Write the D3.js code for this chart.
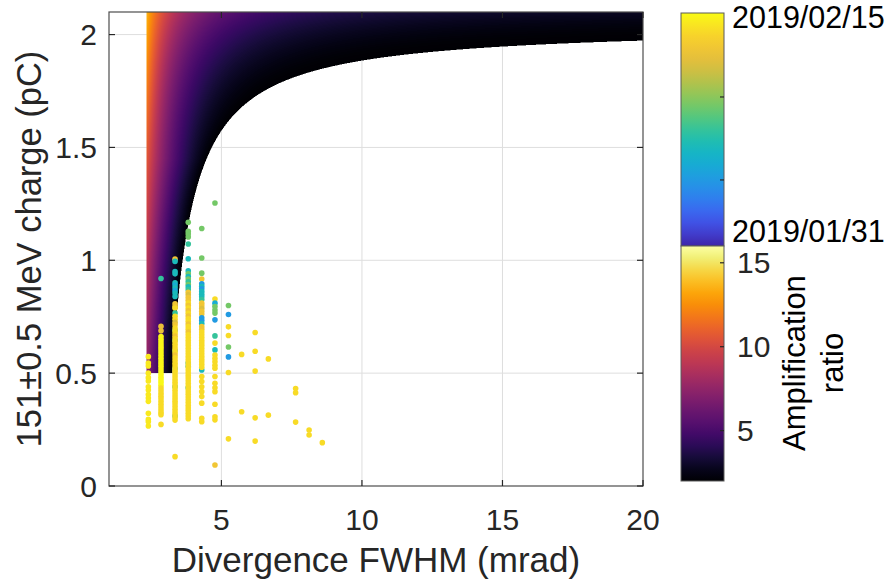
<!DOCTYPE html>
<html>
<head>
<meta charset="utf-8">
<script src="https://cdn.jsdelivr.net/npm/d3@7"></script>
<style>
  body { margin: 0; background: #fff; }
  text { font-family: "Liberation Sans", Arial, sans-serif; }
</style>
</head>
<body>
<div id="vizcontainer"></div>
<script>
const xTicks = [5, 10, 15, 20],
  yTicks = [0, 0.5, 1, 1.5, 2],
  ampTicks = [5, 10, 15],
  dayTicks = [4, 9],                      // 2019/02/04 and 2019/02/09, days after 2019/01/31
  dateLabels = ['2019/02/15', '2019/01/31'];

// shots, one column per divergence step (mrad); charge in pC; shotDay = days after 2019/01/31
const divergence = [2.40, 2.85, 3.35, 3.82, 4.30, 4.77, 5.25, 5.72, 6.20, 6.67, 7.64, 8.12, 8.59];
const charge = [
  [0.573, 0.545, 0.532, 0.500, 0.480, 0.465, 0.440, 0.425, 0.405, 0.390, 0.375, 0.322, 0.295, 0.285, 0.266],
  [0.919, 0.707, 0.688, 0.662, 0.650, 0.638, 0.626, 0.614, 0.602, 0.590, 0.578, 0.566, 0.554, 0.542, 0.530, 0.518, 0.506,
   0.494, 0.482, 0.470, 0.458, 0.446, 0.434, 0.422, 0.410, 0.398, 0.386, 0.374, 0.362, 0.350, 0.338, 0.326, 0.316, 0.273],
  [0.690, 0.645, 0.600, 0.520, 0.440, 0.310,
   1.005, 0.995, 0.950, 0.940, 0.900, 0.890, 0.878, 0.866, 0.855, 0.840, 0.807, 0.795, 0.788, 0.766, 0.752, 0.739, 0.725, 0.714,
   0.700, 0.688, 0.676, 0.664, 0.652, 0.640, 0.628, 0.616, 0.604, 0.592, 0.580, 0.568, 0.556, 0.544, 0.532, 0.520, 0.508,
   0.496, 0.484, 0.472, 0.460, 0.448, 0.436, 0.424, 0.412, 0.400, 0.388, 0.376, 0.364, 0.352, 0.340, 0.328, 0.316, 0.304,
   0.292, 0.130],
  [0.545, 0.530, 0.435,
   1.168, 1.128, 1.116, 1.103, 1.072, 1.007, 0.953, 0.940, 0.928, 0.917, 0.905, 0.893, 0.882, 0.870, 0.858, 0.847, 0.835,
   0.823, 0.810, 0.800, 0.788, 0.776, 0.765, 0.753, 0.741, 0.730, 0.718, 0.706, 0.694, 0.682, 0.670, 0.658,
   0.646, 0.634, 0.622, 0.610, 0.598, 0.586, 0.574, 0.562, 0.550, 0.538, 0.526, 0.514, 0.502, 0.490, 0.478, 0.466, 0.454,
   0.442, 0.430, 0.418, 0.406, 0.394, 0.382, 0.370, 0.358, 0.346, 0.334, 0.322, 0.310, 0.298],
  [0.514,
   1.141, 1.010, 0.943, 0.917, 0.896, 0.885, 0.874, 0.862, 0.850, 0.838, 0.826, 0.810, 0.798, 0.786, 0.774, 0.762, 0.745,
   0.733, 0.720, 0.706, 0.694, 0.682,
   0.670, 0.658, 0.646, 0.634, 0.622, 0.610, 0.598, 0.586, 0.574, 0.562, 0.550, 0.538, 0.526,
   0.485, 0.463, 0.440, 0.418, 0.396, 0.367, 0.300, 0.285],
  [1.254, 0.828, 0.810, 0.795, 0.780, 0.766, 0.736, 0.665, 0.633, 0.603, 0.580, 0.565, 0.550, 0.535, 0.522, 0.485, 0.455,
   0.435, 0.418, 0.362, 0.307, 0.293, 0.093],
  [0.800, 0.760, 0.705, 0.667, 0.616, 0.572, 0.503, 0.209],
  [0.583, 0.329],
  [0.680, 0.597, 0.509, 0.302, 0.199],
  [0.563, 0.314],
  [0.432, 0.413, 0.283],
  [0.248, 0.226],
  [0.192]
];
const shotDay = [
  [13.5, 13.5, 13.5, 13.5, 13.5, 13.5, 13.5, 13.5, 13.5, 13.5, 13.5, 13.5, 13.5, 13.5, 13.5],
  [7, 11.5, 11.5, 14, 14, 14, 14, 14, 14, 14, 14, 14, 14, 14, 14, 14, 14,
   14, 14, 14, 14, 14, 13, 13, 13, 13, 13, 13, 13, 13, 13, 13, 13, 13],
  [6, 7, 6, 6, 6, 6,
   12, 6, 6, 6, 6, 5, 6, 4.5, 6, 6, 12, 12, 13, 7, 13, 13, 11, 12,
   13, 13, 13, 12, 13, 13, 13, 13, 13, 13, 12, 13, 13, 13, 13, 13, 13,
   13, 13, 13, 13, 13, 13, 13, 13, 13, 13, 13, 13, 13, 13, 13, 13, 13,
   13, 13],
  [6, 6, 6,
   8.5, 8.5, 8.5, 8.5, 7, 6, 6, 8.5, 6, 8.5, 7, 8.5, 6, 7, 12, 11, 12,
   12, 13, 12, 13, 12, 13, 12, 13, 13, 12, 13, 13, 12, 13, 13,
   13, 13, 13, 13, 13, 13, 13, 13, 13, 13, 13, 13, 13, 13, 13, 13, 13,
   13, 13, 13, 13, 13, 13, 13, 13, 13, 13, 13, 13, 13],
  [6,
   8.5, 8.5, 8.5, 12, 4, 6, 4, 6, 6, 6, 7, 12, 12, 11, 12, 12, 4,
   4, 6, 12, 12, 13,
   13, 13, 13, 13, 13, 13, 13, 13, 13, 13, 13, 13, 13,
   13, 13, 13, 13, 13, 13, 13, 13],
  [8.5, 13, 5, 8.5, 8.5, 8.5, 4, 7, 13, 6, 13, 13, 13, 13, 13, 13, 13,
   13, 13, 13, 13, 13, 12],
  [8.5, 4, 13, 13, 8.5, 4, 13, 13],
  [13, 13],
  [13, 13, 13, 13, 13],
  [13, 13],
  [13, 13, 13],
  [13, 13],
  [13]
];

// amplification-ratio surface, shape
const ampRange = [2, 16],
  surfaceDivMin = 2.34, surfaceChargeMin = 0.5,
  edgeX0 = 2.5, edgeK = 1.165, edgeQs = 2.04,          // edge where the ratio falls to 2
  leftCharge = [0.5, 1.0, 1.45, 1.89, 2.1],            // ratio read along the left edge
  leftAmp = [7.4, 9.0, 10.7, 12.7, 13.7];

const parulaStops = ['#3e26a8', '#4552f2', '#2f7ff0', '#1fa0e0', '#0db7c8', '#30c49c',
  '#72ca64', '#b3c24a', '#e9bb3c', '#face2d', '#f9fb15'];

const width = 888, height = 587;

const x = d3.scaleLinear().domain([1, 20]).range([109, 643]);
const y = d3.scaleLinear().domain([0, 2.1]).range([486, 12]);
const ampY = d3.scaleLinear().domain(ampRange).range([481, 246]);
const dayY = d3.scaleLinear().domain([0.02, 14.06]).range([246, 13]);
const ampColor = d3.scaleSequential(d3.interpolateInferno).domain(ampRange);
const dayColor = d3.scaleSequential(d3.interpolateRgbBasis(parulaStops)).domain(dayY.domain());
const leftEdge = d3.scaleLinear().domain(leftCharge).range(leftAmp).clamp(true);

function amplification(d, q) {
  if (d < surfaceDivMin || q < surfaceChargeMin) return null;
  const invEdge = (edgeQs - q) / (edgeX0 * (edgeQs - q) + edgeK);
  const u = 1 / d - invEdge;
  if (u <= 0) return null;
  const s = u / (1 / surfaceDivMin - invEdge);
  const p = 1 + 1.2 * Math.max(0, q - 1.45);
  return ampRange[0] + (leftEdge(q) - ampRange[0]) * Math.pow(s, p);
}

const svg = d3.select('#vizcontainer')
  .append('svg')
  .attr('width', width)
  .attr('height', height);

svg.append('defs').append('clipPath').attr('id', 'plotclip')
  .append('rect')
  .attr('x', x(1)).attr('y', y(2.1))
  .attr('width', x(20) - x(1)).attr('height', y(0) - y(2.1));

// grid
const grid = svg.append('g').attr('stroke', '#dedede').attr('stroke-width', 1);
grid.selectAll('.gx').data(xTicks.slice(0, -1)).join('line')
  .attr('x1', d => x(d)).attr('x2', d => x(d)).attr('y1', y(0)).attr('y2', y(2.1));
grid.selectAll('.gy').data(yTicks.slice(1)).join('line')
  .attr('y1', d => y(d)).attr('y2', d => y(d)).attr('x1', x(1)).attr('x2', x(20));

// surface raster
const hw = Math.round(x(20) - x(1)), hh = Math.round(y(0) - y(2.1));
const canvas = document.createElement('canvas');
canvas.width = hw; canvas.height = hh;
const ctx = canvas.getContext('2d');
const img = ctx.createImageData(hw, hh);
const lut = d3.range(256).map(i => d3.rgb(ampColor(ampRange[0] + (ampRange[1] - ampRange[0]) * i / 255)));
const sub = [0.25, 0.75];
for (let py = 0; py < hh; py++) {
  for (let px = 0; px < hw; px++) {
    let cover = 0, rSum = 0;
    for (const sy of sub) for (const sx of sub) {
      const r = amplification(x.invert(x(1) + px + sx), y.invert(y(2.1) + py + sy));
      if (r !== null) { cover++; rSum += r; }
    }
    if (!cover) continue;
    const t = Math.max(0, Math.min(1, (rSum / cover - ampRange[0]) / (ampRange[1] - ampRange[0])));
    const c = lut[Math.round(t * 255)];
    const k = (py * hw + px) * 4;
    img.data[k] = c.r; img.data[k + 1] = c.g; img.data[k + 2] = c.b;
    img.data[k + 3] = Math.round(255 * cover / 4);
  }
}
ctx.putImageData(img, 0, 0);
svg.append('image')
  .attr('x', x(1)).attr('y', y(2.1))
  .attr('width', hw).attr('height', hh)
  .attr('href', canvas.toDataURL());

// shots
const shots = divergence.flatMap((d, i) => charge[i].map((q, j) => ({ d, q, day: shotDay[i][j] })));
svg.append('g').attr('clip-path', 'url(#plotclip)')
  .selectAll('circle')
  .data(shots)
  .join('circle')
  .attr('cx', s => x(s.d))
  .attr('cy', s => y(s.q))
  .attr('r', 2.8)
  .attr('fill', s => dayColor(s.day));

// axes box and ticks
const axisColor = '#262626';
svg.append('rect')
  .attr('x', x(1)).attr('y', y(2.1))
  .attr('width', x(20) - x(1)).attr('height', y(0) - y(2.1))
  .attr('fill', 'none').attr('stroke', '#4d4d4d').attr('stroke-width', 1.2);
const ticks = svg.append('g').attr('stroke', axisColor).attr('stroke-width', 1.2);
const tl = 6;
xTicks.forEach(t => {
  ticks.append('line').attr('x1', x(t)).attr('x2', x(t)).attr('y1', y(0)).attr('y2', y(0) - tl);
  ticks.append('line').attr('x1', x(t)).attr('x2', x(t)).attr('y1', y(2.1)).attr('y2', y(2.1) + tl);
});
yTicks.forEach(t => {
  ticks.append('line').attr('y1', y(t)).attr('y2', y(t)).attr('x1', x(1)).attr('x2', x(1) + tl);
  ticks.append('line').attr('y1', y(t)).attr('y2', y(t)).attr('x1', x(20)).attr('x2', x(20) - tl);
});

svg.append('g').selectAll('text').data(xTicks).join('text')
  .attr('x', d => x(d)).attr('y', y(0) + 44)
  .attr('text-anchor', 'middle').attr('font-size', 30).attr('fill', axisColor)
  .text(d => d);
svg.append('g').selectAll('text').data(yTicks).join('text')
  .attr('x', x(1) - 12).attr('y', d => y(d)).attr('dy', '0.35em')
  .attr('text-anchor', 'end').attr('font-size', 30).attr('fill', axisColor)
  .text(d => d);

svg.append('text')
  .attr('x', (x(1) + x(20)) / 2).attr('y', 572)
  .attr('text-anchor', 'middle').attr('font-size', 35).attr('fill', axisColor)
  .text('Divergence FWHM (mrad)');
svg.append('text')
  .attr('transform', `translate(41,${(y(0) + y(2.1)) / 2}) rotate(-90)`)
  .attr('text-anchor', 'middle').attr('font-size', 34.5).attr('fill', axisColor)
  .text('151±0.5 MeV charge (pC)');

// colour bars
const cbX = 681, cbW = 43;
const defs = svg.select('defs');
const gDay = defs.append('linearGradient').attr('id', 'gday')
  .attr('x1', 0).attr('x2', 0).attr('y1', 1).attr('y2', 0);
gDay.selectAll('stop').data(d3.range(0, 1.0001, 0.05)).join('stop')
  .attr('offset', t => t)
  .attr('stop-color', t => dayColor(dayY.domain()[0] + t * (dayY.domain()[1] - dayY.domain()[0])));
const gAmp = defs.append('linearGradient').attr('id', 'gamp')
  .attr('x1', 0).attr('x2', 0).attr('y1', 1).attr('y2', 0);
gAmp.selectAll('stop').data(d3.range(0, 1.0001, 0.05)).join('stop')
  .attr('offset', t => t)
  .attr('stop-color', t => ampColor(ampRange[0] + t * (ampRange[1] - ampRange[0])));

svg.append('rect')
  .attr('x', cbX).attr('y', dayY.range()[1])
  .attr('width', cbW).attr('height', dayY.range()[0] - dayY.range()[1])
  .attr('fill', 'url(#gday)').attr('stroke', '#5a5a5a').attr('stroke-width', 1);
svg.append('rect')
  .attr('x', cbX).attr('y', ampY.range()[1])
  .attr('width', cbW).attr('height', ampY.range()[0] - ampY.range()[1])
  .attr('fill', 'url(#gamp)').attr('stroke', '#5a5a5a').attr('stroke-width', 1);

const cbTicks = svg.append('g').attr('stroke', axisColor).attr('stroke-width', 1.2);
dayTicks.forEach(t => cbTicks.append('line')
  .attr('x1', cbX + cbW).attr('x2', cbX + cbW - 4).attr('y1', dayY(t)).attr('y2', dayY(t)));
ampTicks.forEach(t => cbTicks.append('line')
  .attr('x1', cbX + cbW).attr('x2', cbX + cbW - 4).attr('y1', ampY(t)).attr('y2', ampY(t)));

svg.append('g').selectAll('text').data(ampTicks).join('text')
  .attr('x', cbX + cbW + 13).attr('y', d => ampY(d)).attr('dy', '0.35em')
  .attr('font-size', 30).attr('fill', axisColor)
  .text(d => d);

svg.append('text').attr('x', cbX + cbW + 8).attr('y', 28)
  .attr('font-size', 30.5).attr('fill', '#000').text(dateLabels[0]);
svg.append('text').attr('x', cbX + cbW + 8).attr('y', 242)
  .attr('font-size', 30.5).attr('fill', '#000').text(dateLabels[1]);

svg.append('text')
  .attr('transform', `translate(805,363) rotate(-90)`)
  .attr('text-anchor', 'middle').attr('font-size', 31).attr('fill', '#000')
  .text('Amplification');
svg.append('text')
  .attr('transform', `translate(843,363) rotate(-90)`)
  .attr('text-anchor', 'middle').attr('font-size', 31).attr('fill', '#000')
  .text('ratio');
</script>
</body>
</html>
